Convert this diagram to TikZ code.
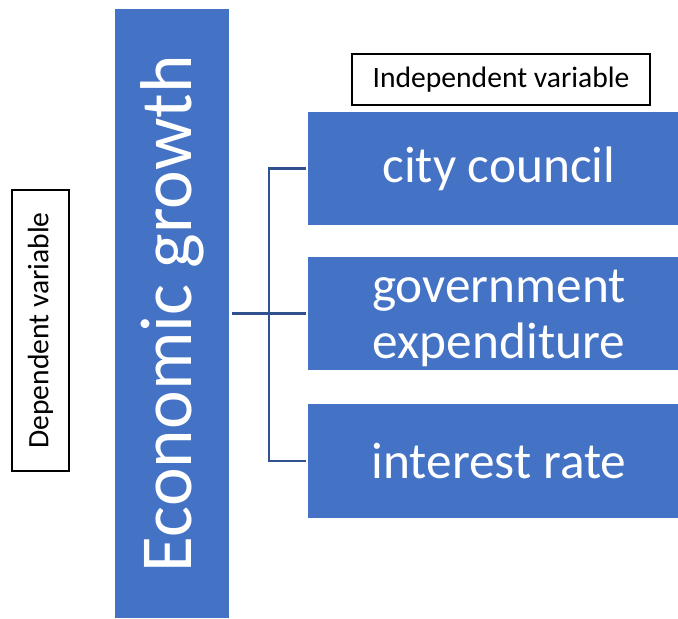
\documentclass[tikz,border=0pt]{standalone}
\usepackage{fontspec}
\setmainfont{Carlito}
\usepackage{graphicx}
\definecolor{boxblue}{HTML}{4472C4}
\definecolor{linkblue}{HTML}{2F528F}
\begin{document}
\begin{tikzpicture}[x=0.75pt,y=-0.75pt,
  bluebox/.style={fill=boxblue,draw=none,text=white,inner sep=0pt,align=center},
  itembox/.style={bluebox,minimum width=286.5pt,minimum height=85pt,
    font=\fontsize{38.5}{42}\selectfont},
  tagbox/.style={draw=black,line width=1.1pt,fill=white,inner sep=0pt,
    font=\fontsize{22.2}{26}\selectfont},
  link/.style={draw=linkblue,line width=2pt}]
\useasboundingbox (0,0) rectangle (678,618);

% main dependent variable bar
\node[bluebox,minimum width=85.5pt,minimum height=457pt,
  font=\fontsize{55}{60}\selectfont] (eg) at (172,313.5)
  {\rotatebox{90}{Economic growth}};

% labels
\node[tagbox,minimum width=42.75pt,minimum height=210.75pt] (dep) at (40.5,330.5)
  {\rotatebox{90}{Dependent variable}};
\node[tagbox,minimum width=223.5pt,minimum height=38.25pt] (ind) at (501,79.5)
  {Independent variable};

% independent variables (the rule lowers the two-line text a little)
\node[itembox] (b1) at (499,168.5) {city council};
\node[itembox] (b2) at (499,313.5) {\rule{0pt}{32pt}government\\expenditure};
\node[itembox] (b3) at (499,461) {interest rate};

% bracket connector
\coordinate (bus) at (269,313.5);
\draw[link] ([xshift=2.25pt]eg.east |- bus) -- ([xshift=-1.5pt]b2.west);
\draw[link] ([xshift=-1.5pt]b1.west) -| (bus) |- ([xshift=-1.5pt]b3.west);
\end{tikzpicture}
\end{document}
